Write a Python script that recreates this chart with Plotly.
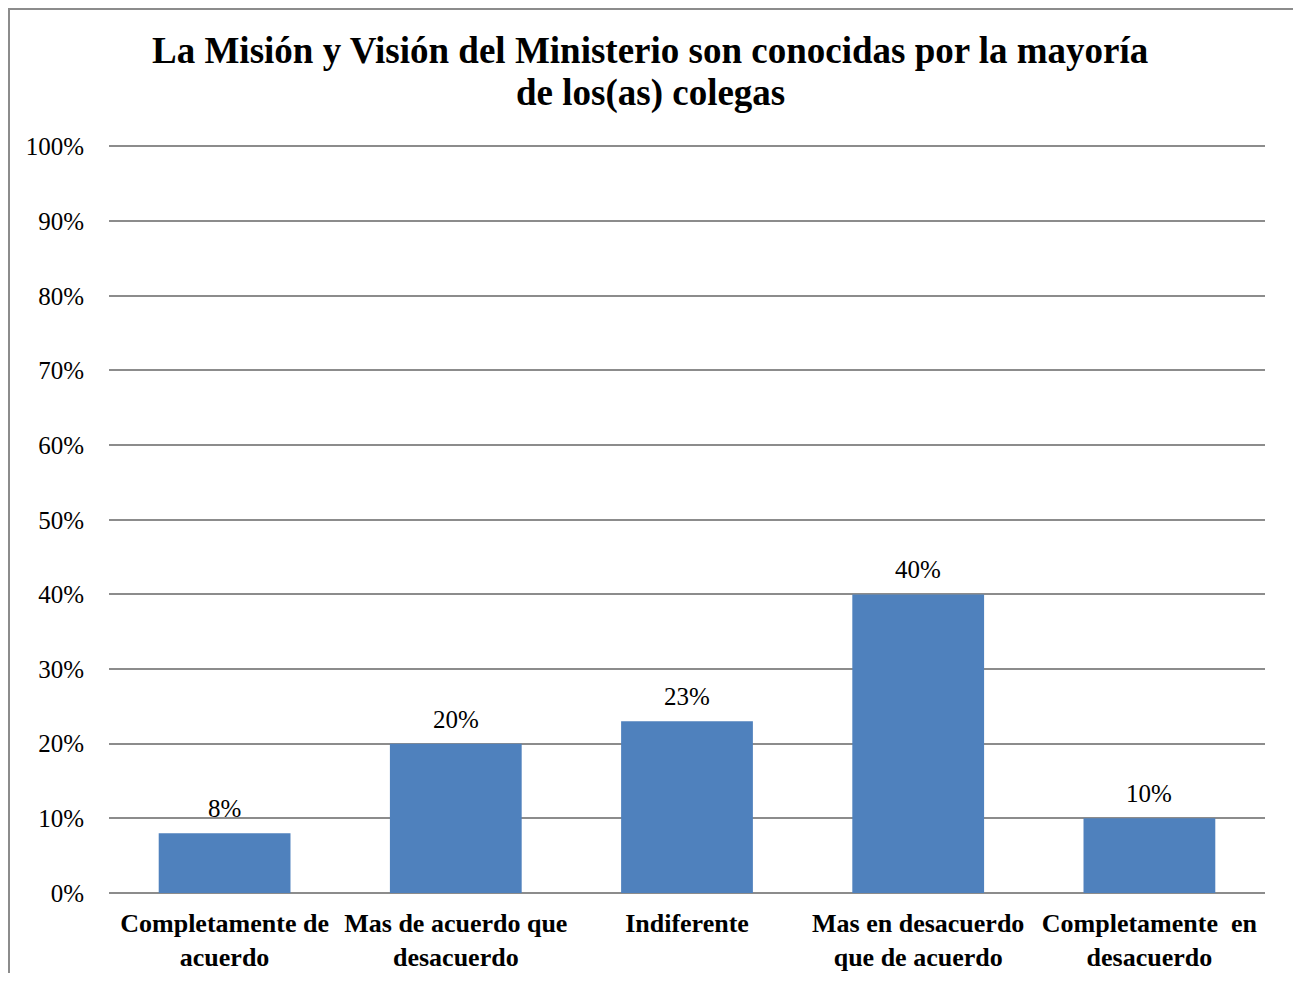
import plotly.graph_objs as go

categories = [
    "<b>Completamente de<br>acuerdo</b>",
    "<b>Mas de acuerdo que<br>desacuerdo</b>",
    "<b>Indiferente</b>",
    "<b>Mas en desacuerdo<br>que de acuerdo</b>",
    "<b>Completamente&nbsp; en<br>desacuerdo</b>",
]
values = [0.08, 0.20, 0.23, 0.40, 0.10]
labels = ["8%", "20%", "23%", "40%", "10%"]
tick_vals = [0, 0.1, 0.2, 0.3, 0.4, 0.5, 0.6, 0.7, 0.8, 0.9, 1.0]
tick_text = ["0%", "10%", "20%", "30%", "40%", "50%", "60%", "70%", "80%", "90%", "100%"]
title_lines = [
    "<b>La Misión y Visión del Ministerio son conocidas por la mayoría</b>",
    "<b>de los(as) colegas</b>",
]

serif = "Liberation Serif, Times New Roman, serif"
grey = "#8c8c8c"

fig = go.Figure(go.Bar(
    x=categories,
    y=values,
    marker=dict(color="#4F81BD", line=dict(width=0)),
    hovertext=labels,
))

# data labels above each bar
annotations = [
    dict(x=c, y=v, text=t, xref="x", yref="y",
         xanchor="center", yanchor="bottom", yshift=9, showarrow=False,
         font=dict(family=serif, size=25, color="black"))
    for c, v, t in zip(categories, values, labels)
]

# two title lines, placed separately to control line spacing
for line, ypos in zip(title_lines, [1.127, 1.0695]):
    annotations.append(dict(
        text=line, xref="paper", yref="paper",
        x=0.468, y=ypos, xanchor="center", yanchor="middle",
        showarrow=False,
        font=dict(family=serif, size=37, color="black"),
    ))

# page has an 8px body margin, so the figure is sized/offset to compensate
fig.update_layout(
    width=1289,
    height=965,
    paper_bgcolor="white",
    plot_bgcolor="white",
    margin=dict(l=101, r=32, t=137, b=80),
    bargap=0.43,
    showlegend=False,
    xaxis=dict(
        showgrid=False,
        showline=False,
        ticks="",
        tickfont=dict(family=serif, size=26, color="black"),
        ticklabelstandoff=12,
        automargin=False,
    ),
    yaxis=dict(
        range=[0, 1.002],
        tickvals=tick_vals,
        ticktext=tick_text,
        showgrid=True,
        gridcolor=grey,
        gridwidth=2,
        zeroline=True,
        zerolinecolor=grey,
        zerolinewidth=2,
        showline=False,
        ticks="",
        tickfont=dict(family=serif, size=25, color="black"),
        ticklabelstandoff=24,
        automargin=False,
    ),
    annotations=annotations,
    shapes=[dict(
        type="rect", xref="paper", yref="paper",
        x0=-0.0865, x1=1.0251, y0=-0.2, y1=1.1818,
        line=dict(color=grey, width=2),
        layer="below",
    )],
)

fig.write_html("out.html")
